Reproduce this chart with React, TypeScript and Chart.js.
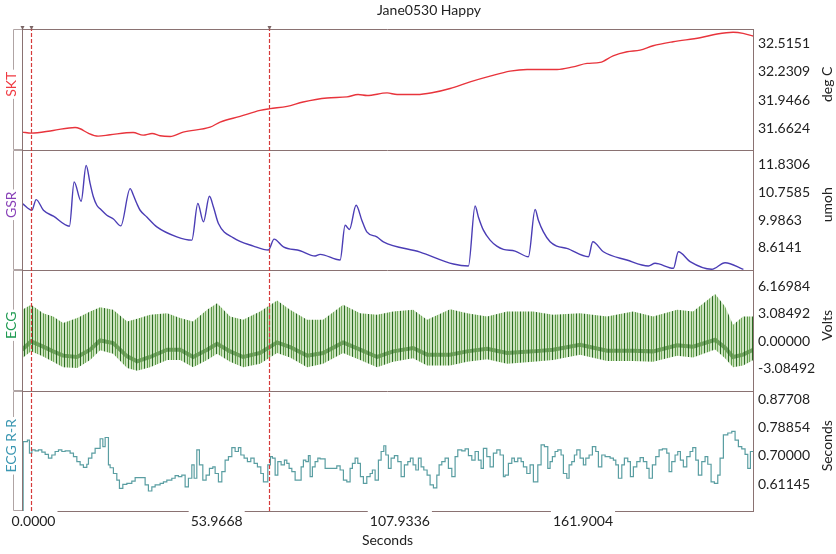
import React, { useEffect, useRef } from 'react';
import { Chart, registerables } from 'chart.js';

Chart.register(...registerables);

const FONT = 'Lato, "Open Sans", sans-serif';
const BORDER = '#8a7272';

// ---------- text / ticks ----------
const chartTitle = 'Jane0530 Happy';
const xTitle = 'Seconds';
const xMin = -3.4;
const xMax = 212.0;
const xTicks = [0, 53.9668, 107.9336, 161.9004];
const xTickLabels = ['0.0000', '53.9668', '107.9336', '161.9004'];
const markerTimes = [-0.7, 69.5];
const topMarkTimes = [-3.3, -0.7, 69.5];

const panelNames = ['SKT', 'GSR', 'ECG', 'ECG R-R'];
const panelUnits = ['deg C', 'umoh', 'Volts', 'Seconds'];
const panelColors = ['#f03a42', '#8840b8', '#1f9b52', '#3b97b2'];

const sktTicks = [31.6624, 31.9466, 32.2309, 32.5151];
const sktTickLabels = ['31.6624', '31.9466', '32.2309', '32.5151'];
const gsrTicks = [8.6141, 9.6863, 10.7585, 11.8306];
const gsrTickLabels = ['8.6141', '9.9863', '10.7585', '11.8306'];
const ecgTicks = [-3.08492, 0, 3.08492, 6.16984];
const ecgTickLabels = ['-3.08492', '0.00000', '3.08492', '6.16984'];
const rrTicks = [0.61145, 0.7, 0.78854, 0.87708];
const rrTickLabels = ['0.61145', '0.70000', '0.78854', '0.87708'];

// ---------- SKT (deg C) ----------
const sktTime = [-3.27, -0.71, 5.77, 12.26, 13.73, 16.09, 19.03, 22.57, 29.35, 32.29, 34.94, 37.3, 40.25, 44.08, 52.03, 54.98, 60.87, 66.76, 69.71, 74.72, 79.43, 86.5, 92.39, 95.63, 98.29, 104.18, 107.13, 113.02, 117.74, 122.75, 128.64, 134.53, 140.42, 145.43, 154.27, 158.99, 163.11, 166.94, 170.77, 174.9, 178.73, 182.56, 188.45, 196.41, 201.42, 206.13, 209.08, 212.03];
const sktValue = [31.63, 31.62, 31.647, 31.677, 31.664, 31.62, 31.59, 31.604, 31.627, 31.6, 31.617, 31.594, 31.587, 31.63, 31.68, 31.73, 31.787, 31.847, 31.864, 31.887, 31.931, 31.971, 31.981, 32.005, 31.995, 32.021, 32.005, 32.005, 32.025, 32.065, 32.131, 32.188, 32.238, 32.255, 32.255, 32.281, 32.315, 32.325, 32.391, 32.431, 32.448, 32.491, 32.531, 32.571, 32.608, 32.625, 32.615, 32.588];

// ---------- GSR (umoh) ----------
const gsrTime = [-3.27, -0.5, 0.77, 2.92, 5.86, 10.58, 11.96, 14.02, 15.5, 16.68, 17.65, 18.65, 19.62, 21.6, 23.54, 25.72, 28.46, 29.43, 30.44, 31.41, 33.38, 36.33, 42.22, 46.64, 48.41, 50.06, 51.83, 53.01, 54.48, 58.9, 64.79, 69.21, 70.89, 73.63, 78.55, 82.97, 84.44, 90.34, 91.81, 93.08, 95.05, 96.73, 98.2, 101.16, 103.09, 113.91, 123.72, 128.14, 130.11, 131.08, 132.56, 134.53, 136.51, 138.45, 141.9, 145.82, 147.79, 148.76, 150.24, 152.21, 154.18, 157.13, 163.5, 164.79, 167.91, 174.81, 181.17, 183.15, 188.54, 190.01, 193.46, 199.85, 203.77, 209.17];
const gsrValue = [10.327, 10.068, 10.481, 10.068, 9.837, 9.451, 11.16, 10.415, 11.804, 11.098, 10.581, 10.261, 10.124, 9.875, 9.729, 9.463, 10.905, 10.647, 10.327, 10.068, 9.81, 9.424, 9.039, 8.911, 10.327, 9.617, 10.608, 10.195, 9.555, 9.0, 8.68, 8.526, 8.95, 8.653, 8.499, 8.295, 8.36, 8.14, 9.49, 9.324, 10.261, 9.683, 9.232, 9.039, 8.846, 8.449, 7.986, 7.909, 10.234, 9.81, 9.297, 8.912, 8.68, 8.553, 8.487, 8.267, 10.095, 9.683, 9.231, 8.846, 8.68, 8.591, 8.267, 8.846, 8.46, 8.14, 7.909, 8.013, 7.82, 8.46, 8.075, 7.781, 8.036, 7.781];

// ---------- ECG (Volts): R-peak envelope, baseline, S-trough envelope ----------
const ecgTime = [-3.36, -0.71, 2.83, 5.77, 8.72, 12.85, 16.68, 19.62, 23.45, 27.58, 30.52, 34.35, 39.36, 43.19, 47.02, 51.14, 54.09, 57.92, 61.76, 66.76, 71.77, 75.6, 80.61, 85.32, 91.22, 96.23, 101.24, 105.95, 111.85, 115.97, 122.75, 127.76, 133.65, 139.54, 147.2, 153.09, 161.05, 169.0, 176.66, 182.56, 189.63, 194.34, 200.83, 203.77, 206.13, 209.08, 212.03];
const ecgHigh = [3.55, 4.11, 3.18, 2.8, 2.06, 2.62, 3.36, 3.85, 3.55, 2.24, 2.54, 2.99, 3.18, 2.62, 2.24, 3.55, 4.3, 2.8, 2.43, 3.36, 4.59, 3.55, 2.43, 2.43, 4.11, 3.18, 2.99, 3.36, 3.55, 2.43, 3.63, 3.18, 2.8, 3.36, 3.36, 2.99, 3.18, 2.8, 3.36, 2.8, 3.55, 3.36, 5.34, 3.92, 1.87, 2.8, 2.8];
const ecgBase = [-0.93, 0.0, -0.59, -1.12, -1.6, -1.75, -0.93, 0.11, -0.18, -1.68, -2.24, -1.75, -0.93, -0.93, -1.75, -0.93, -0.26, -1.12, -1.75, -1.3, -0.11, -0.63, -1.6, -1.3, -0.11, -0.93, -1.75, -1.12, -0.74, -1.49, -1.49, -1.12, -0.82, -1.3, -1.12, -0.93, -0.37, -1.04, -1.04, -1.12, -0.43, -0.59, 0.19, -0.71, -1.75, -1.49, -0.93];
const ecgLow = [-1.9, -1.1, -1.7, -2.3, -2.9, -3.0, -2.1, -1.0, -1.4, -3.0, -3.3, -2.9, -2.1, -2.1, -2.9, -2.1, -1.4, -2.3, -2.9, -2.5, -1.3, -1.8, -2.9, -2.5, -1.3, -2.1, -2.9, -2.3, -1.9, -2.7, -2.7, -2.3, -2.0, -2.5, -2.3, -2.1, -1.5, -2.2, -2.2, -2.3, -1.6, -1.8, -0.9, -1.9, -2.9, -2.7, -2.1];

// ---------- ECG R-R (Seconds), step values starting at each time ----------
const rrTime = [-3.3, -3.06, -1.8, -1.21, -0.5, 0.47, 1.44, 2.45, 3.42, 4.39, 5.39, 6.36, 7.34, 8.34, 9.31, 10.78, 11.76, 12.76, 13.73, 14.7, 15.7, 16.18, 17.18, 18.15, 19.62, 20.42, 21.1, 22.07, 22.57, 23.54, 24.54, 25.31, 26.31, 27.49, 28.96, 29.94, 32.88, 33.85, 34.86, 35.83, 37.3, 38.27, 39.27, 40.75, 41.72, 42.69, 43.69, 44.67, 45.64, 46.64, 47.32, 48.11, 48.88, 49.88, 50.85, 51.83, 52.83, 53.51, 54.48, 55.48, 56.45, 57.43, 58.43, 59.4, 60.37, 61.08, 62.05, 63.02, 64.02, 65.0, 65.97, 66.97, 67.74, 69.03, 69.8, 70.39, 71.19, 71.98, 72.95, 73.93, 74.63, 75.31, 76.11, 77.08, 78.85, 79.52, 80.23, 80.99, 81.5, 82.17, 82.97, 83.77, 84.44, 85.92, 89.36, 90.34, 91.31, 92.31, 93.28, 93.96, 94.76, 95.55, 96.32, 97.2, 98.2, 99.18, 99.85, 100.65, 101.62, 102.42, 103.21, 103.8, 104.57, 105.36, 106.33, 107.34, 108.31, 109.28, 110.28, 111.05, 111.84, 112.64, 113.41, 114.2, 115.0, 115.97, 116.85, 117.83, 118.83, 119.51, 120.3, 121.27, 122.24, 123.25, 124.22, 125.01, 126.19, 127.17, 128.14, 129.14, 130.11, 131.08, 131.88, 132.56, 133.56, 134.53, 135.5, 136.51, 137.48, 138.45, 138.95, 139.92, 140.93, 141.69, 142.69, 143.67, 144.35, 145.34, 146.32, 147.29, 148.59, 149.56, 150.53, 151.53, 152.21, 152.89, 153.68, 154.48, 155.45, 156.13, 157.13, 157.81, 158.6, 159.37, 160.08, 161.05, 162.02, 162.73, 163.7, 164.67, 165.67, 166.44, 167.44, 168.42, 169.89, 170.86, 171.57, 172.34, 173.34, 174.1, 175.1, 175.87, 176.75, 177.76, 178.73, 179.7, 180.7, 181.38, 182.35, 183.35, 184.33, 185.3, 186.59, 187.27, 188.06, 189.04, 189.83, 190.6, 191.48, 192.49, 193.46, 194.25, 195.14, 195.9, 196.91, 197.88, 198.67, 199.65, 200.62, 201.62, 202.3, 203.27, 204.57, 205.75, 206.72, 207.69, 208.69, 209.66, 210.46, 211.23, 212.0];
const rrValue = [0.45, 0.745, 0.75, 0.709, 0.719, 0.716, 0.719, 0.712, 0.705, 0.693, 0.703, 0.714, 0.719, 0.714, 0.716, 0.709, 0.698, 0.682, 0.672, 0.664, 0.674, 0.693, 0.709, 0.724, 0.754, 0.729, 0.758, 0.672, 0.663, 0.645, 0.624, 0.598, 0.611, 0.614, 0.621, 0.632, 0.609, 0.59, 0.603, 0.609, 0.614, 0.619, 0.624, 0.63, 0.638, 0.635, 0.64, 0.603, 0.63, 0.672, 0.63, 0.719, 0.672, 0.624, 0.64, 0.661, 0.666, 0.645, 0.619, 0.651, 0.687, 0.698, 0.726, 0.714, 0.726, 0.703, 0.693, 0.682, 0.693, 0.677, 0.666, 0.645, 0.619, 0.672, 0.698, 0.693, 0.64, 0.682, 0.672, 0.687, 0.677, 0.661, 0.651, 0.624, 0.666, 0.687, 0.682, 0.701, 0.635, 0.666, 0.682, 0.693, 0.691, 0.661, 0.669, 0.656, 0.624, 0.619, 0.661, 0.677, 0.693, 0.677, 0.635, 0.614, 0.635, 0.645, 0.656, 0.624, 0.687, 0.714, 0.732, 0.703, 0.661, 0.693, 0.701, 0.682, 0.635, 0.672, 0.682, 0.693, 0.672, 0.656, 0.693, 0.666, 0.656, 0.64, 0.609, 0.6, 0.64, 0.672, 0.682, 0.693, 0.661, 0.635, 0.698, 0.719, 0.716, 0.722, 0.701, 0.687, 0.714, 0.687, 0.661, 0.724, 0.698, 0.666, 0.709, 0.719, 0.703, 0.635, 0.64, 0.677, 0.693, 0.682, 0.693, 0.682, 0.666, 0.645, 0.672, 0.619, 0.672, 0.735, 0.729, 0.661, 0.682, 0.698, 0.714, 0.719, 0.703, 0.645, 0.63, 0.672, 0.682, 0.703, 0.719, 0.693, 0.672, 0.693, 0.703, 0.729, 0.714, 0.666, 0.703, 0.698, 0.693, 0.687, 0.672, 0.63, 0.672, 0.693, 0.682, 0.635, 0.666, 0.682, 0.695, 0.682, 0.661, 0.63, 0.672, 0.698, 0.719, 0.722, 0.709, 0.651, 0.682, 0.703, 0.714, 0.687, 0.666, 0.698, 0.714, 0.726, 0.687, 0.64, 0.682, 0.698, 0.674, 0.619, 0.614, 0.64, 0.693, 0.766, 0.772, 0.777, 0.75, 0.729, 0.722, 0.705, 0.661, 0.714, 0.714];

const pts = (t: number[], v: number[]) => t.map((x, i) => ({ x, y: v[i] }));

function yAxis(min: number, max: number, ticks: number[], labels: string[]) {
  return {
    type: 'linear',
    position: 'right',
    stack: 'panels',
    stackWeight: 1,
    min,
    max,
    afterBuildTicks: (s: any) => {
      s.ticks = ticks.map((v) => ({ value: v }));
    },
    afterFit: (s: any) => {
      s.width = 83;
    },
    grid: { display: false, drawTicks: false },
    border: { display: true, color: BORDER, width: 1 },
    ticks: {
      autoSkip: false,
      font: { family: FONT, size: 14 },
      color: '#222',
      padding: 5,
      callback: (_v: any, i: number) => labels[i],
    },
  };
}

const decorPlugin = {
  id: 'decor',
  afterDatasetsDraw(chart: any) {
    const { ctx, chartArea: a, scales } = chart;
    const ids = ['ySKT', 'yGSR', 'yECG', 'yRR'];
    ctx.save();
    // panel separators
    ctx.strokeStyle = BORDER;
    ctx.lineWidth = 1;
    ids.forEach((id) => {
      const s = scales[id];
      const y = Math.round(s.top) + 0.5;
      ctx.beginPath();
      ctx.moveTo(a.left, y);
      ctx.lineTo(a.right, y);
      ctx.stroke();
    });
    // left plot border
    ctx.beginPath();
    ctx.moveTo(Math.round(a.left) + 0.5, a.top);
    ctx.lineTo(Math.round(a.left) + 0.5, a.bottom);
    ctx.stroke();
    // left brackets
    ctx.strokeStyle = '#b0a4a4';
    ids.forEach((id) => {
      const s = scales[id];
      const t = Math.round(s.top) + 0.5;
      const b = Math.round(s.bottom) - 0.5;
      ctx.beginPath();
      ctx.moveTo(13.5, t);
      ctx.lineTo(13.5, b);
      ctx.moveTo(13.5, t);
      ctx.lineTo(a.left, t);
      ctx.moveTo(13.5, b);
      ctx.lineTo(a.left, b);
      ctx.stroke();
    });
    // dashed event markers
    ctx.setLineDash([4, 2]);
    ctx.strokeStyle = '#d63a3a';
    ctx.lineWidth = 1.2;
    markerTimes.forEach((t) => {
      const x = Math.round(scales.x.getPixelForValue(t)) + 0.5;
      ctx.beginPath();
      ctx.moveTo(x, a.top - 2);
      ctx.lineTo(x, a.bottom + 2);
      ctx.stroke();
    });
    ctx.setLineDash([]);
    ctx.lineWidth = 1;
    // top marker triangles
    ctx.fillStyle = '#7a6666';
    topMarkTimes.forEach((t) => {
      const x = Math.round(scales.x.getPixelForValue(t)) + 0.5;
      ctx.beginPath();
      ctx.moveTo(x - 2, a.top - 3);
      ctx.lineTo(x + 2, a.top - 3);
      ctx.lineTo(x, a.top + 1);
      ctx.closePath();
      ctx.fill();
    });
    // channel names (left) and units (right)
    ctx.font = `14px ${FONT}`;
    ctx.textAlign = 'center';
    ctx.textBaseline = 'middle';
    ids.forEach((id, i) => {
      const s = scales[id];
      const cy = (s.top + s.bottom) / 2 - 5;
      const w = ctx.measureText(panelNames[i]).width;
      ctx.save();
      ctx.translate(11.5, cy);
      ctx.rotate(-Math.PI / 2);
      ctx.fillStyle = '#ffffff';
      ctx.fillRect(-w / 2 - 2, -7, w + 4, 14);
      ctx.fillStyle = panelColors[i];
      ctx.fillText(panelNames[i], 0, 0);
      ctx.restore();
      ctx.save();
      ctx.translate(827, cy);
      ctx.rotate(-Math.PI / 2);
      ctx.fillStyle = '#222';
      ctx.fillText(panelUnits[i], 0, 0);
      ctx.restore();
    });
    ctx.restore();
  },
};

export default function App() {
  const ref = useRef<HTMLCanvasElement>(null);

  useEffect(() => {
    const canvas = ref.current;
    if (!canvas) return;
    const c2d = canvas.getContext('2d')!;
    const pc = document.createElement('canvas');
    pc.width = 8;
    pc.height = 2;
    const g = pc.getContext('2d')!;
    g.fillStyle = 'rgba(170,208,150,0.6)';
    g.fillRect(0, 0, 8, 2);
    g.fillStyle = 'rgba(34,100,26,0.95)';
    g.fillRect(0, 0, 1, 2);
    g.fillStyle = 'rgba(80,145,58,0.92)';
    g.fillRect(3, 0, 1, 2);
    g.fillStyle = 'rgba(105,165,80,0.9)';
    g.fillRect(5, 0, 1, 2);
    const stripes = c2d.createPattern(pc, 'repeat');

    const chart = new Chart(canvas, {
      type: 'line',
      data: {
        datasets: [
          {
            label: 'SKT',
            data: pts(sktTime, sktValue),
            yAxisID: 'ySKT',
            borderColor: '#e8343c',
            borderWidth: 1.4,
            pointRadius: 0,
            cubicInterpolationMode: 'monotone',
          },
          {
            label: 'GSR',
            data: pts(gsrTime, gsrValue),
            yAxisID: 'yGSR',
            borderColor: '#4b3db5',
            borderWidth: 1.4,
            pointRadius: 0,
            cubicInterpolationMode: 'monotone',
          },
          {
            label: 'ECG high',
            data: pts(ecgTime, ecgHigh),
            yAxisID: 'yECG',
            borderWidth: 0,
            borderColor: 'rgba(0,0,0,0)',
            pointRadius: 0,
            fill: 3,
            backgroundColor: stripes as any,
          },
          {
            label: 'ECG low',
            data: pts(ecgTime, ecgLow),
            yAxisID: 'yECG',
            borderWidth: 0,
            borderColor: 'rgba(0,0,0,0)',
            pointRadius: 0,
            fill: false,
          },
          {
            label: 'ECG',
            data: pts(ecgTime, ecgBase),
            yAxisID: 'yECG',
            borderColor: '#1d5614',
            borderWidth: 4,
            pointRadius: 0,
            fill: false,
          },
          {
            label: 'ECG R-R',
            data: pts(rrTime, rrValue),
            yAxisID: 'yRR',
            borderColor: '#5a9ea2',
            borderWidth: 1.2,
            pointRadius: 0,
            stepped: true,
          },
        ],
      },
      options: {
        animation: false,
        responsive: false,
        devicePixelRatio: 1,
        layout: { padding: { left: 22, right: 0, top: 0, bottom: 0 }, autoPadding: false },
        plugins: {
          legend: { display: false },
          tooltip: { enabled: false },
          title: {
            display: true,
            text: chartTitle,
            color: '#222',
            font: { family: FONT, size: 14, weight: 'normal' },
            padding: { top: 2, bottom: 10.2 },
          },
        },
        scales: {
          x: {
            type: 'linear',
            position: 'bottom',
            min: xMin,
            max: xMax,
            afterBuildTicks: (s: any) => {
              s.ticks = xTicks.map((v) => ({ value: v }));
            },
            afterFit: (s: any) => {
              s.height = 43;
            },
            grid: { display: false, drawTicks: false },
            border: { display: true, color: BORDER, width: 1 },
            ticks: {
              autoSkip: false,
              maxRotation: 0,
              font: { family: FONT, size: 14 },
              color: '#222',
              padding: 2,
              showLabelBackdrop: true,
              backdropColor: '#ffffff',
              backdropPadding: 2,
              callback: (_v: any, i: number) => xTickLabels[i],
            },
            title: {
              display: true,
              text: xTitle,
              color: '#222',
              font: { family: FONT, size: 14 },
              padding: { top: 0, bottom: 5 },
            },
          },
          ySKT: yAxis(31.457, 32.658, sktTicks, sktTickLabels),
          yGSR: yAxis(7.754, 12.421, gsrTicks, gsrTickLabels),
          yECG: yAxis(-5.52, 8.03, ecgTicks, ecgTickLabels),
          yRR: yAxis(0.5273, 0.9054, rrTicks, rrTickLabels),
        } as any,
      },
      plugins: [decorPlugin],
    } as any);
    return () => chart.destroy();
  }, []);

  return (
    <div style={{ position: 'absolute', left: 0, top: 0, width: 836, height: 554, background: '#fff' }}>
      <canvas ref={ref} width={836} height={554} style={{ display: 'block' }} />
    </div>
  );
}
